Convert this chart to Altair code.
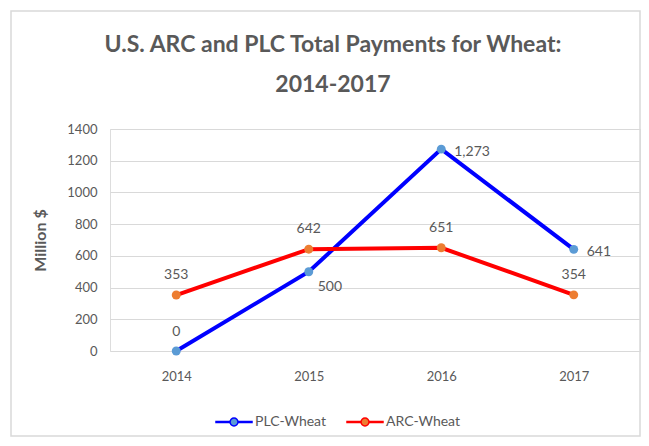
import altair as alt
import pandas as pd

years = ["2014", "2015", "2016", "2017"]
plc_wheat = [0, 500, 1273, 641]
arc_wheat = [353, 642, 651, 354]
series_names = ["PLC-Wheat", "ARC-Wheat"]
line_colors = ["#0000FF", "#FF0000"]
point_colors = ["#5B9BD5", "#ED7D31"]
y_ticks = [0, 200, 400, 600, 800, 1000, 1200, 1400]
title_lines = ["U.S. ARC and PLC Total Payments for Wheat:", "2014-2017"]

rows = []
for i, yr in enumerate(years):
    rows.append({"year": yr, "series": series_names[0], "value": plc_wheat[i]})
    rows.append({"year": yr, "series": series_names[1], "value": arc_wheat[i]})
df = pd.DataFrame(rows)

FONT = "Lato"
GRAY = "#595959"

x_enc = alt.X("year:N", sort=years,
              scale=alt.Scale(type="point", padding=0.5),
              axis=alt.Axis(title=None, labelAngle=0, domain=False, ticks=False,
                            labelPadding=19, labelFontSize=13, labelColor=GRAY,
                            labelFont=FONT, grid=False))
y_enc = alt.Y("value:Q", scale=alt.Scale(domain=[0, 1400], nice=False),
              axis=alt.Axis(title="Million $", values=y_ticks, format="d", domain=False,
                            ticks=False, labelPadding=13, labelFontSize=13, labelColor=GRAY,
                            labelFont=FONT, titleFont=FONT, titleFontSize=16,
                            titleFontWeight="bold", titleColor=GRAY, titlePadding=18,
                            gridColor="#d9d9d9", gridWidth=1))

legend_symbol = ("M-1,-0.03L-0.24,-0.03L-0.24,0.03L-1,0.03Z"
                 "M0.24,-0.03L1,-0.03L1,0.03L0.24,0.03Z"
                 "M-0.22,0A0.22,0.22 0 1,0 0.22,0A0.22,0.22 0 1,0 -0.22,0Z")

legend_props = dict(title=None, orient="none", direction="horizontal",
                    legendX=105, legendY=274,
                    symbolType=legend_symbol, symbolSize=1296,
                    symbolStrokeWidth=1.5, labelFontSize=14,
                    labelColor=GRAY, labelFont=FONT,
                    columnPadding=18, labelOffset=2)

base = alt.Chart(df)

lines = base.mark_line(strokeWidth=4).encode(
    x=x_enc, y=y_enc,
    stroke=alt.Stroke("series:N", scale=alt.Scale(domain=series_names, range=line_colors),
                      legend=alt.Legend(**legend_props)),
    detail="series:N",
)

points = base.mark_point(filled=True, size=80, opacity=1).encode(
    x=x_enc, y=y_enc,
    fill=alt.Fill("series:N", scale=alt.Scale(domain=series_names, range=point_colors),
                  legend=alt.Legend(**legend_props)),
)

txt = dict(fontSize=14, color=GRAY, font=FONT, baseline="middle")

arc_labels = base.transform_filter(alt.datum.series == "ARC-Wheat").mark_text(
    align="center", dy=-20, **txt).encode(x=x_enc, y=y_enc, text=alt.Text("value:Q", format=","))

plc_above = base.transform_filter(
    (alt.datum.series == "PLC-Wheat") & (alt.datum.year == "2014")).mark_text(
    align="center", dy=-19, **txt).encode(x=x_enc, y=y_enc, text=alt.Text("value:Q", format=","))

plc_below = base.transform_filter(
    (alt.datum.series == "PLC-Wheat") & (alt.datum.year == "2015")).mark_text(
    align="left", dx=9, dy=15, **txt).encode(x=x_enc, y=y_enc, text=alt.Text("value:Q", format=","))

plc_right = base.transform_filter(
    (alt.datum.series == "PLC-Wheat") & ((alt.datum.year == "2016") | (alt.datum.year == "2017"))
).mark_text(align="left", dx=13, dy=3, **txt).encode(
    x=x_enc, y=y_enc, text=alt.Text("value:Q", format=","))

frame = alt.Chart(pd.DataFrame({"k": [0]})).mark_rect(
    fill=None, stroke="#d9d9d9", strokeWidth=1.5).encode(
    x=alt.value(-99), x2=alt.value(530), y=alt.value(-118), y2=alt.value(307))

title1 = alt.Chart(pd.DataFrame({"t": [title_lines[0]]})).mark_text(
    font=FONT, fontSize=23, fontWeight="bold", color=GRAY, align="center",
    baseline="middle").encode(x=alt.value(223), y=alt.value(-84), text="t:N")
title2 = alt.Chart(pd.DataFrame({"t": [title_lines[1]]})).mark_text(
    font=FONT, fontSize=23, fontWeight="bold", color=GRAY, align="center",
    baseline="middle").encode(x=alt.value(223), y=alt.value(-44), text="t:N")

chart = alt.layer(frame, title1, title2, lines, points, arc_labels, plc_above,
                  plc_below, plc_right).properties(
    width=530, height=222,
    padding={"left": 102, "top": 121, "right": 1, "bottom": 87},
    autosize=alt.AutoSizeParams(type="none"),
).configure_view(stroke=None).configure(background="white")

chart.save("out.html", embed_options={"renderer": "svg", "actions": False})
